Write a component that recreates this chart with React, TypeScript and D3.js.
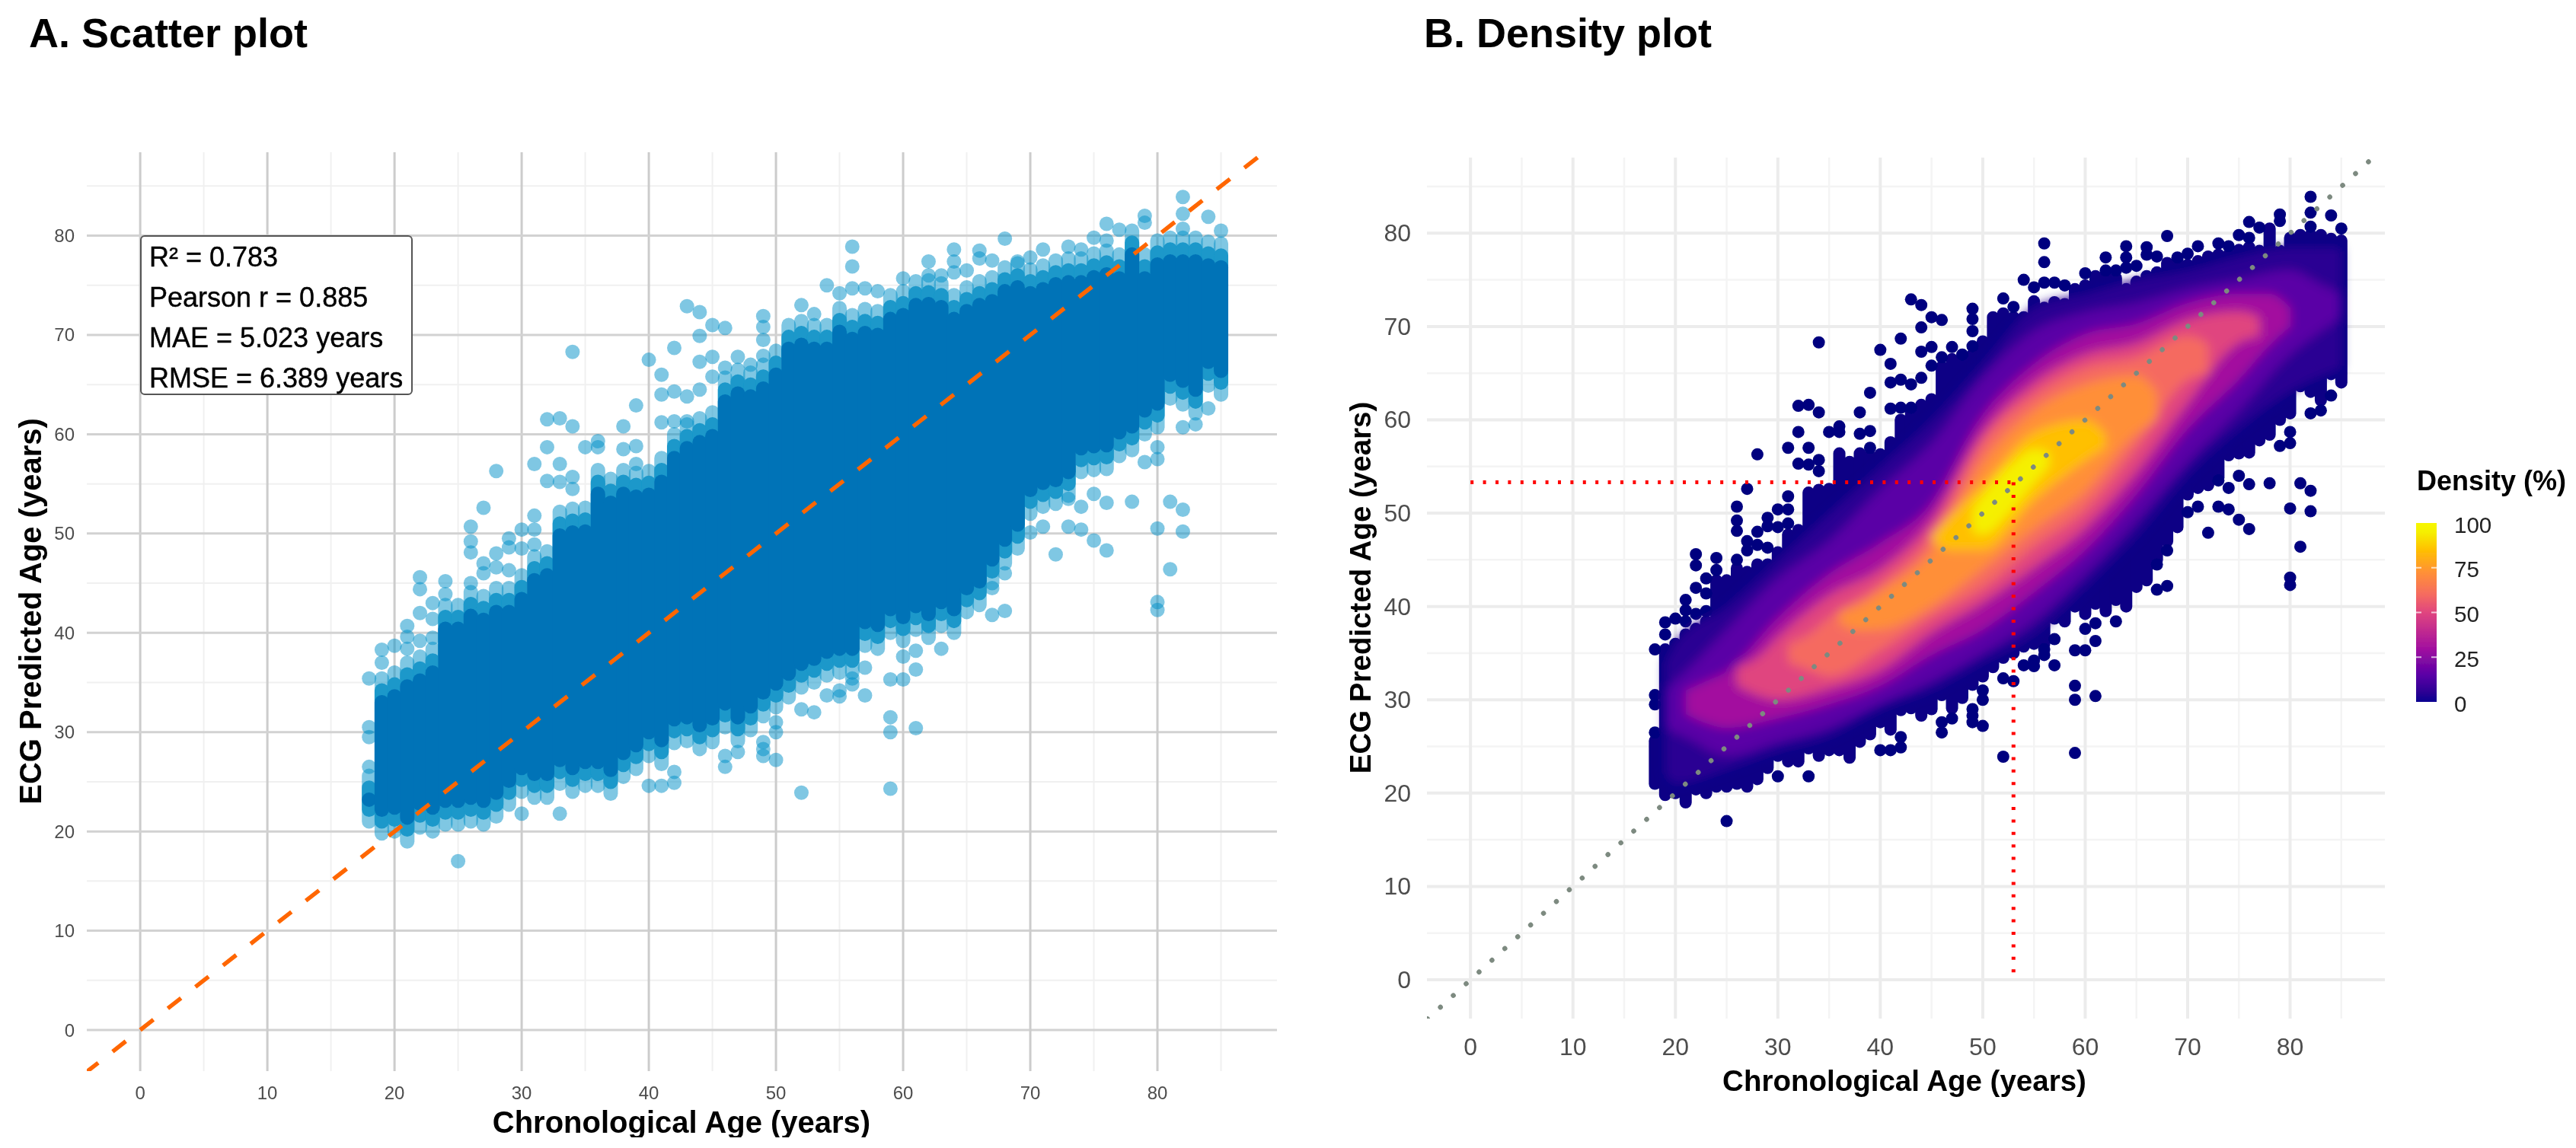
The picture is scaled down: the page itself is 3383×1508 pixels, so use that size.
import * as d3 from 'd3';

const W = 3383;
const H = 1508;

const ages = d3.range(18, 86);
// upper and lower end of the unbroken point column at each age (18..85)
const columnTop = [
  25.6, 35.4, 36, 37, 37.6, 38.4, 42.8, 42.8, 44.1, 43.7, 44.5, 44.5, 45.8, 47.7, 48.2, 52.2, 52.5, 52.6,
  56.4, 55.5, 56.4, 56.1, 56.3, 57.6, 60, 61, 61.6, 62.2, 65.7, 66.5, 66.2, 67, 68.4, 71, 71.4, 71, 71,
  72.7, 72, 72.6, 72.4, 74, 74.4, 75.4, 75.5, 75.2, 74, 74.8, 75.4, 75.8, 76.8, 77.2, 76.6, 77, 77.5,
  77.7, 77.7, 78.2, 78.5, 78.1, 80.5, 78.1, 79.5, 79.8, 79.8, 79.8, 79.4, 79.2,
];
const columnBottom = [
  21, 19.8, 20, 19, 20.4, 20, 20.7, 20.7, 21, 20.7, 21.5, 22.7, 24, 23.4, 23.4, 24.8, 24, 24.6,
  24.6, 23.8, 25.5, 26.3, 27.6, 26.8, 28.9, 29.1, 28.3, 29, 30.5, 29.1, 30.2, 31.6, 32.5, 33.5, 34.5, 35, 35.7,
  36, 36, 38.7, 38.4, 40, 39.2, 40.3, 39.5, 40.7, 40, 42.1, 42.8, 45, 47, 48.5, 52, 52.7, 53,
  53.8, 56.2, 56.4, 56.5, 57.8, 58.4, 60, 60.7, 63.6, 63, 62.1, 64.9, 64,
];
// points standing clear of the columns: [age, predicted]
const strays: [number, number][] = [
  [18, 35.4], [18, 30.5], [18, 29.5], [18, 26.5], [19, 38.3], [19, 37], [20, 38.7], [21, 40.7], [21, 39.6], [21, 38.4],
  [22, 45.6], [22, 44.4], [22, 42], [22, 39.2], [23, 43], [23, 41.4], [23, 39.5], [24, 45.2], [24, 43.9], [25, 17],
  [26, 50.7], [26, 49.2], [26, 48.1], [26, 45], [27, 52.6], [27, 47], [27, 46], [28, 56.3], [28, 48], [28, 46.6],
  [29, 49.5], [29, 48.6], [29, 46.3], [30, 50.4], [30, 48.5], [30, 21.8], [31, 57], [31, 51.8], [31, 50.4], [31, 48.9],
  [32, 61.5], [32, 58.7], [32, 55.3], [33, 61.6], [33, 57], [33, 55.2], [33, 21.8], [34, 68.3], [34, 60.8], [34, 55.7],
  [34, 54.5], [35, 58.7], [36, 59.3], [36, 58.7], [38, 60.8], [38, 58.5], [39, 62.9], [39, 58.8], [39, 57], [40, 67.5],
  [40, 24.6], [41, 66], [41, 64], [41, 61.2], [41, 24.6], [42, 68.7], [42, 64.3], [42, 61.3], [42, 26], [42, 24.9],
  [43, 72.9], [43, 63.8], [43, 61.3], [44, 72.3], [44, 69.9], [44, 67.3], [44, 64.5], [45, 71], [45, 67.8], [45, 65.8],
  [46, 70.7], [46, 66.7], [46, 27.6], [46, 26.5], [47, 67.8], [47, 28], [48, 67], [49, 71.9], [49, 70.8], [49, 69.5],
  [49, 67.9], [49, 29], [49, 28.3], [49, 27.6], [50, 31], [50, 30], [50, 27.2], [52, 73], [52, 32.3], [52, 23.9], [53, 72.1],
  [53, 32], [54, 75], [54, 33.7], [55, 74.2], [55, 34.2], [55, 33.6], [56, 78.9], [56, 76.9], [56, 74.7], [56, 35.4], [56, 34.8],
  [57, 74.7], [57, 36.5], [57, 33.7], [58, 74.4],
  [59, 35.3], [59, 31.5], [59, 30], [59, 24.3], [60, 75.7], [60, 35.3], [60, 37.6], [61, 38.2], [61, 36.3], [61, 30.4],
  [62, 77.4], [62, 76], [63, 76], [63, 38.4], [64, 78.6], [64, 77.4], [64, 76.3], [65, 76.5], [66, 78.5], [66, 77.7],
  [67, 77.5], [67, 44.5], [67, 41.8], [68, 79.7], [68, 46], [68, 42.2], [69, 77.4], [70, 77.8], [70, 50.1], [71, 78.6],
  [71, 50.7], [72, 47.9], [73, 78.9], [73, 53.5], [73, 50.7], [74, 78.6], [74, 52.7], [74, 50.4], [75, 79.8], [75, 54],
  [75, 49.3], [76, 81.2], [76, 79.5], [76, 53.1], [76, 48.3], [77, 80.6], [78, 53.2], [79, 82], [79, 81.3], [79, 57.2],
  [80, 58.7], [80, 57.5], [80, 50.5], [80, 43.1], [80, 42.3], [81, 53.2], [81, 46.4], [82, 83.9], [82, 82.2], [82, 80.7],
  [82, 60.7], [82, 52.4], [82, 50.2], [83, 61], [84, 81.9], [84, 62.6], [85, 80.5],
];

// density bands: [age, upper, lower]
const band5: [number, number, number][] = [[19, 34, 22], [20, 36, 21], [25, 40, 22.5], [30, 45, 24.5], [35, 50, 26], [40, 55, 29], [45, 60, 31], [50, 66, 34], [55, 72, 37], [60, 73.5, 42], [65, 75, 47.5], [70, 76, 54], [75, 77.5, 59], [80, 78.5, 63], [85, 78.5, 65.5]];
const band15: [number, number, number][] = [[19, 31, 27], [21, 33, 26], [25, 37.5, 24], [30, 43, 25.5], [35, 47, 27], [40, 52.5, 29.5], [45, 57.5, 32], [50, 64.5, 35], [55, 69.5, 38.5], [60, 71.5, 43.5], [65, 72.5, 49.2], [70, 74, 55.5], [75, 75, 61], [80, 76, 67], [83, 74.5, 69.5], [85, 73.5, 71]];
const band30: [number, number, number][] = [[21, 31, 28.5], [23, 32, 27.5], [25, 33, 27], [30, 38.8, 28], [35, 43.5, 29.5], [40, 46.8, 31.5], [45, 51, 34.8], [50, 60.5, 37.5], [55, 66, 41.5], [60, 69.2, 46], [65, 70.3, 52], [70, 72.5, 59], [75, 73.5, 64.3], [78, 73.5, 68], [80, 72, 70]];
const band50: [number, number, number][] = [[26, 33.5, 31.5], [28, 34.5, 30.5], [30, 36.7, 30], [35, 41.2, 31.2], [40, 44, 33.2], [45, 49.2, 37.2], [50, 58.6, 40.4], [55, 64, 44.2], [60, 67, 48.4], [65, 68.2, 54.4], [70, 70.7, 61.8], [75, 71.6, 68.3], [77, 71, 69]];
const band60: [number, number, number][] = [[31, 36, 34], [33, 37, 33.2], [35, 38.8, 32.5], [40, 42.4, 35.3], [45, 47.6, 38.9], [50, 57.6, 42], [55, 62.6, 46.4], [60, 65.6, 50.4], [65, 66.7, 57], [70, 69, 64.3], [72, 68.2, 65]];
const band72: [number, number, number][] = [[36, 39.5, 38.2], [38, 40.2, 37.4], [40, 41.6, 37.5], [45, 46, 40], [50, 55.5, 44], [55, 61, 48.3], [60, 63.8, 52.3], [65, 64.8, 58.5], [67, 63, 60]];
const band85: [number, number, number][] = [[45, 47.6, 47], [47, 50, 46], [50, 53, 46], [55, 58.7, 51.3], [60, 60, 55.6], [62, 58.5, 57]];
const band95: [number, number, number][] = [[49, 50.5, 48], [50, 52, 47.7], [53, 55.5, 50.5], [55, 56.9, 53.1], [56.5, 56.5, 55]];
const densityBands: [number, [number, number, number][]][] = [
  [5, band5], [15, band15], [30, band30], [50, band50], [60, band60], [72, band72], [85, band85], [95, band95],
];

const densityStops = [0, 5, 15, 30, 50, 60, 72, 85, 95, 100];
const densityColors = ['#0a0090', '#2a0593', '#5a00a6', '#a3109f', '#e0457f', '#f56b60', '#ff8f38', '#ffc000', '#f5f000', '#f7f700'];
const legendTicks = [0, 25, 50, 75, 100];

const majorTicks = [0, 10, 20, 30, 40, 50, 60, 70, 80];
const minorTicks = [5, 15, 25, 35, 45, 55, 65, 75, 85];
const statsLines = ['R² = 0.783', 'Pearson r = 0.885', 'MAE = 5.023 years', 'RMSE = 6.389 years'];

const font = '"Liberation Sans", Arial, sans-serif';
const densityColor = d3.scaleLinear<string>().domain(densityStops).range(densityColors);

// panel A scales
const xA = d3.scaleLinear().domain([-4.2, 89.4]).range([114, 1677]);
const yA = d3.scaleLinear().domain([-4.14, 88.4]).range([1407, 200]);
// panel B scales
const xB = d3.scaleLinear().domain([-4.25, 89.25]).range([1874, 3132]);
const yB = d3.scaleLinear().domain([-4.16, 88.1]).range([1338, 207]);
const legendY = d3.scaleLinear().domain([0, 100]).range([922, 687]);

function Grid({ x, y, major, minor, majorW, minorW, majorX }: any) {
  const [x0, x1] = x.range();
  const [y0, y1] = y.range();
  return (
    <g>
      {minorTicks.map((t) => (
        <g key={t} stroke={minor} strokeWidth={minorW}>
          <line x1={x(t)} x2={x(t)} y1={y0} y2={y1} />
          <line x1={x0} x2={x1} y1={y(t)} y2={y(t)} />
        </g>
      ))}
      {majorTicks.map((t) => (
        <g key={t} strokeWidth={majorW}>
          <line x1={x(t)} x2={x(t)} y1={y0} y2={y1} stroke={majorX} />
          <line x1={x0} x2={x1} y1={y(t)} y2={y(t)} stroke={major} />
        </g>
      ))}
    </g>
  );
}

function TickLabels({ x, y, size, yRight, xMid }: any) {
  return (
    <g fontSize={size} fill="#4d4d4d" fontFamily={font}>
      {majorTicks.map((t) => (
        <text key={t} x={x(t)} y={xMid} textAnchor="middle" dominantBaseline="central">{t}</text>
      ))}
      {majorTicks.map((t) => (
        <text key={t} x={yRight} y={y(t)} textAnchor="end" dominantBaseline="central">{t}</text>
      ))}
    </g>
  );
}

export default function App() {
  return (
    <svg width={W} height={H} style={{ position: 'absolute', left: 0, top: 0, background: '#fff' }}>
      <defs>
        <filter id="soft" filterUnits="userSpaceOnUse" x="0" y="0" width={W} height={H}>
          <feGaussianBlur stdDeviation="0.6" />
        </filter>
        <filter id="bandBlur" filterUnits="userSpaceOnUse" x="1800" y="100" width="1400" height="1300">
          <feGaussianBlur stdDeviation="7" />
        </filter>
        <clipPath id="clipA"><rect x={114} y={200} width={1563} height={1207} /></clipPath>
        <clipPath id="clipB"><rect x={1874} y={207} width={1258} height={1131} /></clipPath>
        <clipPath id="clipBottom"><rect x={0} y={0} width={W} height={1494} /></clipPath>
        <linearGradient id="legendFill" x1="0" x2="0" y1="1" y2="0">
          {densityStops.map((s) => (
            <stop key={s} offset={`${s}%`} stopColor={densityColor(s)} />
          ))}
        </linearGradient>
      </defs>
      <g filter="url(#soft)">
        <text x={38} y={62} fontSize={54} fontWeight="bold" fontFamily={font} fill="#000">A. Scatter plot</text>
        <text x={1870} y={62} fontSize={54} fontWeight="bold" fontFamily={font} fill="#000">B. Density plot</text>

        {/* panel A */}
        <Grid x={xA} y={yA} major="#d2d2d2" majorX="#cccccc" minor="#f0f0f0" majorW={3} minorW={2} />
        <TickLabels x={xA} y={yA} size={24} yRight={98} xMid={1435} />
        {ages.map((a, i) => (
          <line key={a} x1={xA(a)} x2={xA(a)} y1={yA(columnTop[i])} y2={yA(columnBottom[i])}
            stroke="#0090c8" strokeOpacity={0.5} strokeWidth={19} strokeLinecap="round" />
        ))}
        {strays.map(([a, v], i) => (
          <circle key={i} cx={xA(a)} cy={yA(v)} r={9.5} fill="#0090c8" fillOpacity={0.5} />
        ))}
        {ages.map((a, i) => (
          <line key={a} x1={xA(a)} x2={xA(a)} y1={yA(columnTop[i] - 1.2)} y2={yA(columnBottom[i] + 1.2)}
            stroke="#1a98ca" strokeWidth={19} strokeLinecap="round" />
        ))}
        {ages.map((a, i) => (
          <line key={a} x1={xA(a)} x2={xA(a)} y1={yA(columnTop[i] - 2.4)} y2={yA(Math.min(columnBottom[i] + 2.4, columnTop[i] - 2.4))}
            stroke="#0073b7" strokeWidth={19} strokeLinecap="round" />
        ))}
        <line clipPath="url(#clipA)" x1={xA(-4.2)} y1={yA(-4.2)} x2={xA(88.4)} y2={yA(88.4)}
          stroke="#ff6600" strokeWidth={5.5} strokeDasharray="22 24" strokeDashoffset={3} />
        <rect x={185} y={310} width={356} height={208} rx={5} fill="#fff" stroke="#555" strokeWidth={2} />
        <g fontSize={36} fontFamily={font} fill="#000" stroke="#000" strokeWidth={0.4}>
          {statsLines.map((s, i) => (
            <text key={s} x={196} y={337 + i * 53.3} dominantBaseline="central">{s}</text>
          ))}
        </g>
        <text x={895} y={1488} textAnchor="middle" fontSize={40} fontWeight="bold" fontFamily={font} clipPath="url(#clipBottom)">Chronological Age (years)</text>
        <text transform="translate(54,803) rotate(-90)" textAnchor="middle" fontSize={40} fontWeight="bold" fontFamily={font}>ECG Predicted Age (years)</text>

        {/* panel B */}
        <Grid x={xB} y={yB} major="#ececec" majorX="#ececec" minor="#f4f4f4" majorW={4} minorW={2.5} />
        <TickLabels x={xB} y={yB} size={32} yRight={1853} xMid={1375} />
        {ages.map((a, i) => (
          <line key={a} x1={xB(a)} x2={xB(a)} y1={yB(columnTop[i])} y2={yB(columnBottom[i])}
            stroke="#0b0085" strokeWidth={16} strokeLinecap="round" />
        ))}
        {strays.map(([a, v], i) => (
          <circle key={i} cx={xB(a)} cy={yB(v)} r={8} fill="#00007f" />
        ))}
        <g filter="url(#bandBlur)">
          {densityBands.map(([level, rows]) => {
            const area = d3.area<[number, number, number]>()
              .x((d) => xB(d[0]))
              .y0((d) => yB(d[2]))
              .y1((d) => yB(d[1]))
              .curve(d3.curveMonotoneX);
            return <path key={level} d={area(rows) ?? ''} fill={densityColor(level)} />;
          })}
        </g>
        <line clipPath="url(#clipB)" x1={xB(-4.2)} y1={yB(-4.2)} x2={xB(88.1)} y2={yB(88.1)}
          stroke="#7d8a80" strokeWidth={6.5} strokeLinecap="round" strokeDasharray="0.1 22.8" />
        <g stroke="#ff0000" strokeWidth={5} strokeDasharray="4 12.4">
          <line x1={xB(0)} x2={xB(53)} y1={yB(53.3)} y2={yB(53.3)} />
          <line x1={xB(53)} x2={xB(53)} y1={yB(53.3)} y2={yB(0)} />
        </g>
        <text x={2501} y={1433} textAnchor="middle" fontSize={38.5} fontWeight="bold" fontFamily={font}>Chronological Age (years)</text>
        <text transform="translate(1800,772) rotate(-90)" textAnchor="middle" fontSize={38.5} fontWeight="bold" fontFamily={font}>ECG Predicted Age (years)</text>

        {/* legend */}
        <text x={3174} y={644} fontSize={36} fontWeight="bold" fontFamily={font}>Density (%)</text>
        <rect x={3173} y={legendY(100)} width={27} height={legendY(0) - legendY(100)} fill="url(#legendFill)" />
        {legendTicks.map((t) => (
          <g key={t}>
            {t > 0 && t < 100 && (
              <g stroke="#fff" strokeOpacity={0.7} strokeWidth={2}>
                <line x1={3173} x2={3180} y1={legendY(t)} y2={legendY(t)} />
                <line x1={3193} x2={3200} y1={legendY(t)} y2={legendY(t)} />
              </g>
            )}
            <text x={3223} y={legendY(t) + 2} fontSize={29.5} fontFamily={font} fill="#222" dominantBaseline="central">{t}</text>
          </g>
        ))}
      </g>
    </svg>
  );
}
